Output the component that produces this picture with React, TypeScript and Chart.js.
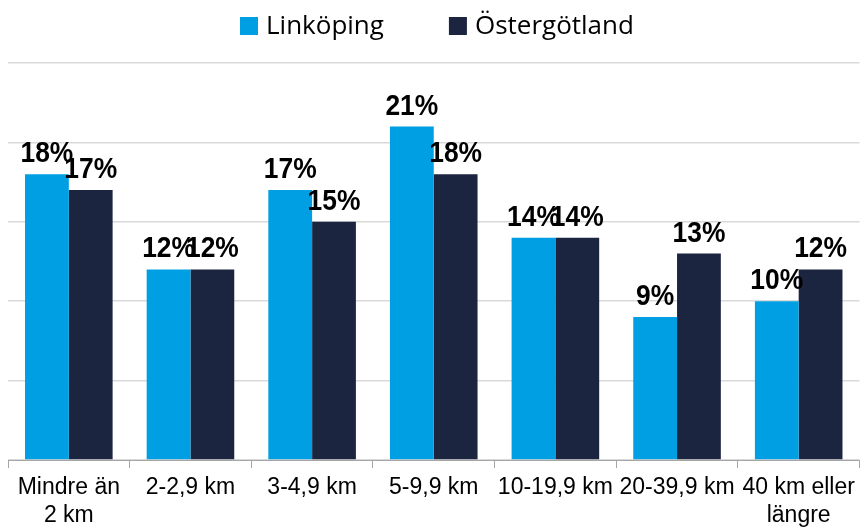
import React, { useEffect, useRef } from "react";
import { Chart, registerables } from "chart.js";

Chart.register(...registerables);

const categories: (string | string[])[] = [
  ["Mindre än", "2 km"],
  "2-2,9 km",
  "3-4,9 km",
  "5-9,9 km",
  "10-19,9 km",
  "20-39,9 km",
  ["40 km eller", "längre"],
];
const seriesNames = ["Linköping", "Östergötland"];
const linkoping = [18, 12, 17, 21, 14, 9, 10];
const ostergotland = [17, 12, 15, 18, 14, 13, 12];
const colors = ["#009FE3", "#1B2540"];
const yMax = 25;
const yStep = 5;

const dataLabelPlugin = {
  id: "dataLabels",
  afterDatasetsDraw(chart: any) {
    const ctx = chart.ctx;
    ctx.save();
    ctx.fillStyle = "#000000";
    ctx.font = 'bold 30px "Liberation Sans", Arial, sans-serif';
    ctx.textAlign = "center";
    ctx.textBaseline = "alphabetic";
    chart.data.datasets.forEach((ds: any, di: number) => {
      const meta = chart.getDatasetMeta(di);
      meta.data.forEach((el: any, i: number) => {
        const txt = ds.data[i] + "%";
        ctx.save();
        ctx.translate(el.x, el.y - 12);
        ctx.scale(0.88, 1);
        ctx.fillText(txt, 0, 0);
        ctx.restore();
      });
    });
    ctx.restore();
  },
};

const legendPlugin = {
  id: "customLegend",
  afterDraw(chart: any) {
    const ctx = chart.ctx;
    ctx.save();
    ctx.font = '26px "Open Sans", sans-serif';
    ctx.textBaseline = "middle";
    ctx.textAlign = "left";
    let x = 240;
    const y = 26;
    const box = 18;
    chart.data.datasets.forEach((ds: any) => {
      ctx.fillStyle = ds.backgroundColor;
      ctx.fillRect(x, y - box / 2, box, box);
      ctx.fillStyle = "#000000";
      ctx.fillText(ds.label, x + box + 8, y + 1);
      x += box + 8 + ctx.measureText(ds.label).width + 65;
    });
    ctx.restore();
  },
};

export default function App() {
  const ref = useRef<HTMLCanvasElement | null>(null);
  useEffect(() => {
    if (!ref.current) return;
    const chart = new Chart(ref.current, {
      type: "bar",
      data: {
        labels: categories,
        datasets: [
          { label: seriesNames[0], data: linkoping, backgroundColor: colors[0] },
          { label: seriesNames[1], data: ostergotland, backgroundColor: colors[1] },
        ],
      },
      options: {
        responsive: false,
        animation: false,
        devicePixelRatio: 1,
        layout: { padding: { top: 63, left: 8, right: 1, bottom: 0 } },
        plugins: {
          legend: { display: false },
          tooltip: { enabled: false },
        },
        datasets: {
          bar: { categoryPercentage: 0.72, barPercentage: 1, borderWidth: 0 },
        },
        scales: {
          x: {
            grid: {
              display: true,
              drawOnChartArea: false,
              drawTicks: true,
              tickLength: 8,
              color: "#a6a6a6",
              lineWidth: 1,
              offset: true,
            },
            border: { display: true, color: "#a6a6a6", width: 1 },
            ticks: {
              color: "#000000",
              font: { family: '"Liberation Sans", Arial, sans-serif', size: 23, lineHeight: 1.2 },
              maxRotation: 0,
              minRotation: 0,
              autoSkip: false,
              padding: 6,
            },
            afterFit: (scale: any) => {
              scale.height = 69;
            },
          },
          y: {
            min: 0,
            max: yMax,
            ticks: { display: false, stepSize: yStep },
            grid: { color: "#d9d9d9", lineWidth: 1.5, drawTicks: false },
            border: { display: false },
            afterFit: (scale: any) => {
              scale.width = 0;
            },
          },
        },
      },
      plugins: [dataLabelPlugin, legendPlugin],
    });
    return () => chart.destroy();
  }, []);
  return (
    <div style={{ position: "absolute", left: 0, top: 0, width: 861, height: 529 }}>
      <canvas ref={ref} width={861} height={529} style={{ display: "block" }} />
    </div>
  );
}
